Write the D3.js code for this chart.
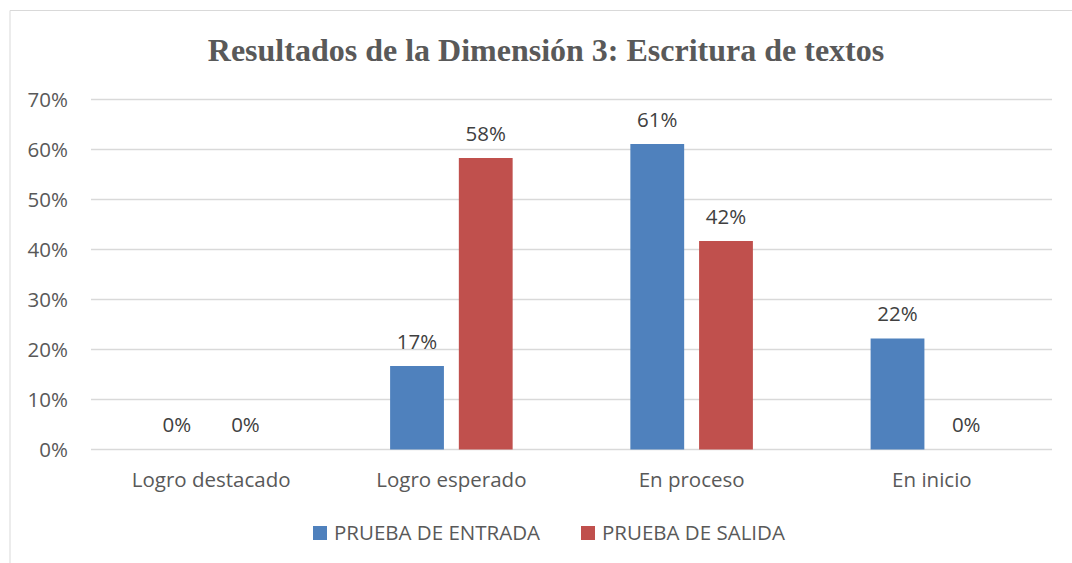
<!DOCTYPE html>
<html lang="es">
<head>
  <meta charset="UTF-8">
  <title>Resultados de la Dimensión 3</title>
  <script src="https://d3js.org/d3.v7.min.js"></script>
  <style>
    html, body { margin: 0; padding: 0; background: #fff; }
    svg { display: block; }
  </style>
</head>
<body>
<svg id="chart"></svg>
<script>
// data
const categories = ["Logro destacado", "Logro esperado", "En proceso", "En inicio"]
const seriesNames = ["PRUEBA DE ENTRADA", "PRUEBA DE SALIDA"]
const entrada = [0, 0.167, 0.611, 0.222]
const salida = [0, 0.583, 0.417, 0]
const yTicks = [0, 0.1, 0.2, 0.3, 0.4, 0.5, 0.6, 0.7]

const colors = ["#4F81BD", "#C0504D"]
const textColor = "#595959"
const labelFont = "'Open Sans', 'Noto Sans', sans-serif"
const labelSize = "20.5px"

const width = 1072, height = 563
const margin = {top: 100, right: 20, bottom: 114, left: 91}

const svg = d3.select("#chart")
    .attr("width", width)
    .attr("height", height)

// outer frame (only top and left edges are visible in the picture)
svg.append("path")
    .attr("d", `M10,${height} V10.5 H${width}`)
    .attr("fill", "none")
    .attr("stroke", "#d9d9d9")
    .attr("stroke-width", 1)

svg.append("text")
    .attr("x", 546)
    .attr("y", 61)
    .attr("text-anchor", "middle")
    .attr("font-family", "'Liberation Serif', 'Times New Roman', serif")
    .attr("font-weight", "bold")
    .attr("font-size", "32px")
    .attr("fill", textColor)
    .text("Resultados de la Dimensión 3: Escritura de textos")

const x0 = d3.scaleBand()
    .domain(categories)
    .range([margin.left, 1052])
    .paddingInner(0.49)
    .paddingOuter(0.245)

const x1 = d3.scaleBand()
    .domain(seriesNames)
    .range([0, x0.bandwidth()])
    .paddingInner(0.217)

const y = d3.scaleLinear()
    .domain([0, 0.7])
    .range([449.5, 99.5])

// gridlines
svg.append("g")
    .selectAll("line")
    .data(yTicks)
    .join("line")
      .attr("x1", margin.left)
      .attr("x2", 1052)
      .attr("y1", d => y(d))
      .attr("y2", d => y(d))
      .attr("stroke", "#d9d9d9")
      .attr("stroke-width", 1.3)

const yAxis = d3.axisLeft(y)
    .tickValues(yTicks)
    .tickFormat(d3.format(".0%"))
    .tickSize(0)
    .tickPadding(23)

svg.append("g")
    .attr("transform", `translate(${margin.left},0)`)
    .call(yAxis)
    .call(g => g.select(".domain").remove())
    .call(g => g.selectAll("text")
        .attr("font-family", labelFont)
        .attr("font-size", labelSize)
        .attr("fill", textColor))

const xAxis = d3.axisBottom(x0).tickSize(0).tickPadding(23)

svg.append("g")
    .attr("transform", `translate(0,${y(0)})`)
    .call(xAxis)
    .call(g => g.select(".domain").remove())
    .call(g => g.selectAll("text")
        .attr("font-family", labelFont)
        .attr("font-size", labelSize)
        .attr("fill", textColor))

const rows = categories.map((c, i) => ({
  cat: c,
  values: [entrada[i], salida[i]]
}))

const group = svg.append("g")
  .selectAll("g")
  .data(rows)
  .join("g")
    .attr("transform", d => `translate(${x0(d.cat)},0)`)

group.selectAll("rect")
  .data(d => d.values.map((v, j) => ({s: seriesNames[j], v, j})))
  .join("rect")
    .attr("x", d => x1(d.s))
    .attr("y", d => y(d.v))
    .attr("width", x1.bandwidth())
    .attr("height", d => y(0) - y(d.v))
    .attr("fill", d => colors[d.j])

group.selectAll("text.val")
  .data(d => d.values.map((v, j) => ({s: seriesNames[j], v, j})))
  .join("text")
    .attr("class", "val")
    .attr("x", d => x1(d.s) + x1.bandwidth() / 2)
    .attr("y", d => y(d.v) - 17.5)
    .attr("text-anchor", "middle")
    .attr("font-family", labelFont)
    .attr("font-size", labelSize)
    .attr("fill", "#404040")
    .text(d => d3.format(".0%")(d.v))

// legend
const legendX = [313, 581]
const legend = svg.append("g")
  .selectAll("g")
  .data(seriesNames)
  .join("g")
    .attr("transform", (d, i) => `translate(${legendX[i]},526)`)

legend.append("rect")
    .attr("width", 14)
    .attr("height", 14)
    .attr("fill", (d, i) => colors[i])

legend.append("text")
    .attr("x", 21)
    .attr("y", 14)
    .attr("font-family", labelFont)
    .attr("font-size", labelSize)
    .attr("fill", textColor)
    .text(d => d)
</script>
</body>
</html>
